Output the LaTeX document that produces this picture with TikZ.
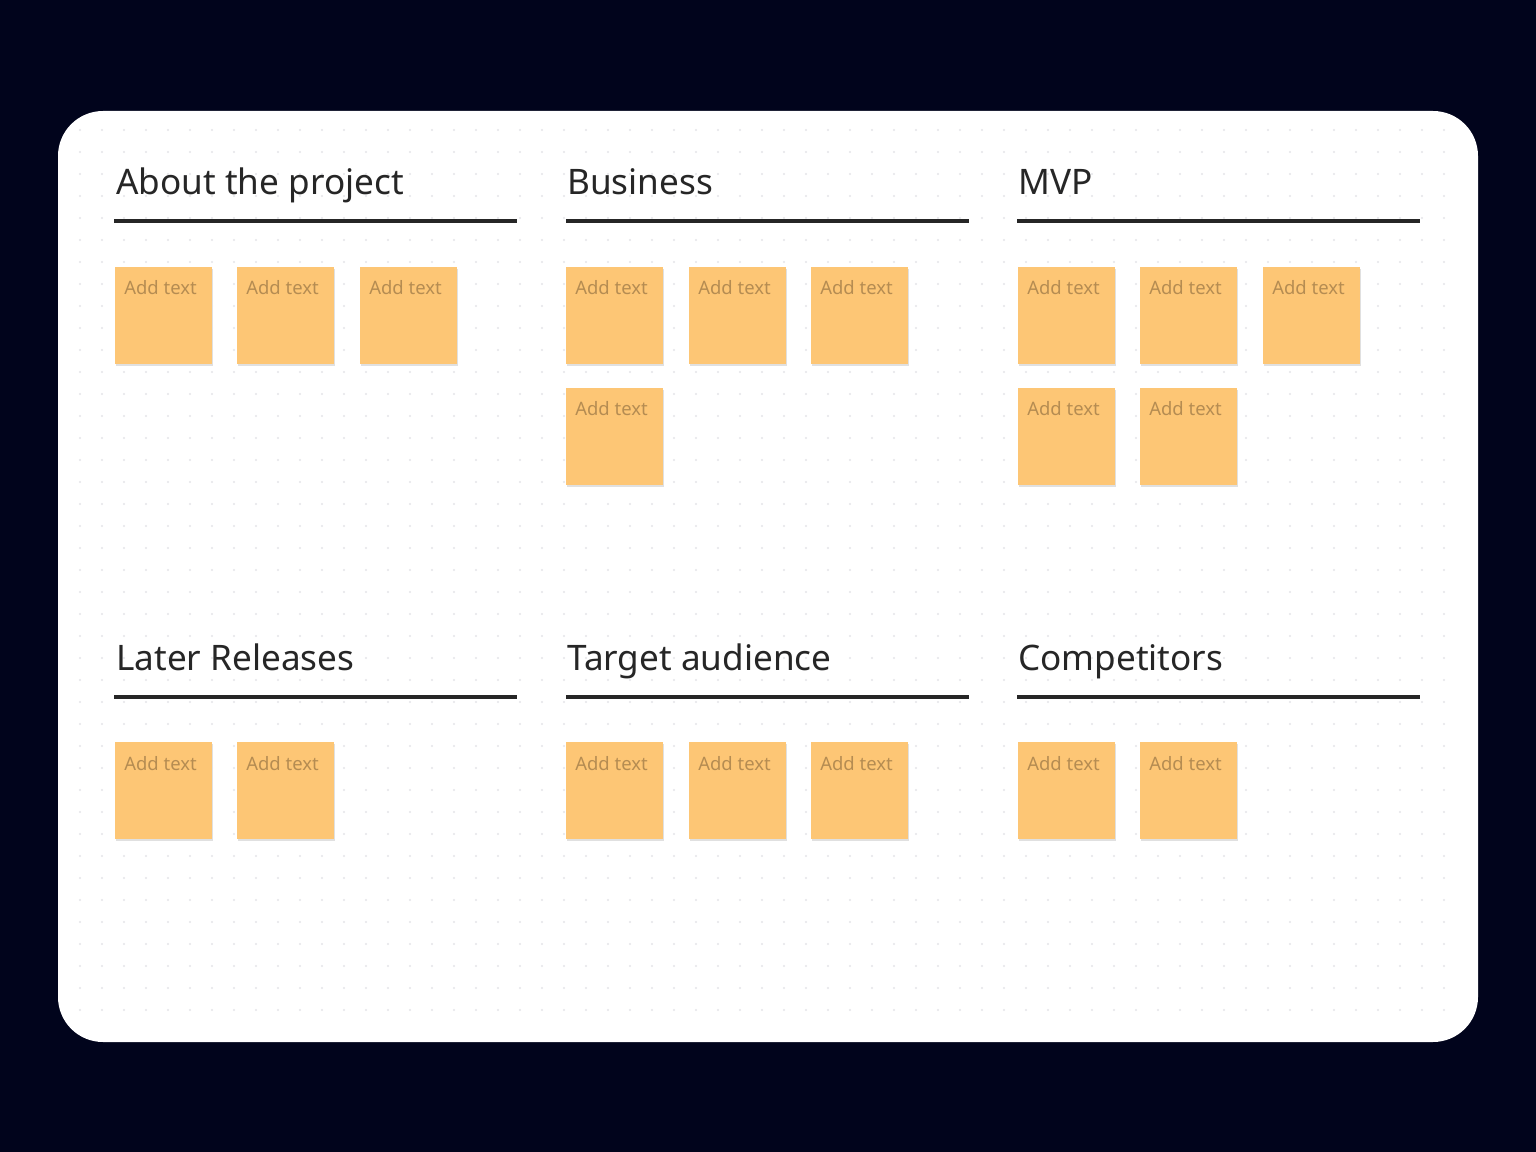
\documentclass[tikz,border=0pt]{standalone}
\usepackage{fontspec}
\setmainfont{Noto Sans}
\begin{document}
\begin{tikzpicture}[x=0.02cm,y=-0.02cm,
  title/.style={anchor=base west,inner sep=0pt,font=\fontsize{20}{24}\selectfont\bfseries,text=black!85},
  rule/.style={line width=2.3pt,draw=black!85},
  sticky/.style={anchor=north west,minimum width=97*0.02cm,minimum height=97*0.02cm,fill=sticky,draw=none,inner sep=0pt},
  lbl/.style={anchor=base west,inner sep=0pt,font=\fontsize{10.5}{12}\selectfont\bfseries,text=stickytext}]
\definecolor{bg}{HTML}{01041C}
\definecolor{sticky}{HTML}{FDC675}
\definecolor{stickytext}{HTML}{B58C52}
\definecolor{dotc}{HTML}{E4E4E8}
\fill[bg] (0,0) rectangle (1536,1152);
\useasboundingbox (0,0) rectangle (1536,1152);
\fill[white,rounded corners=0.9cm] (58,111) rectangle (1478,1042);
\foreach \i in {0,...,62}{\foreach \j in {0,...,40}{
  \fill[dotc] (80+\i*22,130+\j*22) circle (0.6pt);}}
\newcommand{\mysticky}[3]{%
  \fill[black!12] (#2+1,#3+2) rectangle (#2+98,#3+99);
  \node[sticky] (#1) at (#2,#3) {};
  \node[lbl] (#1t) at (#2+9,#3+28) {Add text};}
% headers
\foreach \n/\x/\y/\t in {a/116/195/About the project,b/567/195/Business/monetization,c/1018/195/MVP,d/116/670/Later Releases,e/567/670/Target audience,f/1018/670/Competitors}{
  \node[title] (\n) at (\x,\y) {\t};}
\foreach \x/\y in {114/221,566/221,1017/221,114/697,566/697,1017/697}{
  \draw[rule] (\x,\y) -- (\x+403,\y);}
\mysticky{a1}{115}{267}\mysticky{a2}{237}{267}\mysticky{a3}{360}{267}
\mysticky{b1}{566}{267}\mysticky{b2}{689}{267}\mysticky{b3}{811}{267}
\mysticky{b4}{566}{388}
\mysticky{c1}{1018}{267}\mysticky{c2}{1140}{267}\mysticky{c3}{1263}{267}
\mysticky{c4}{1018}{388}\mysticky{c5}{1140}{388}
\mysticky{d1}{115}{742}\mysticky{d2}{237}{742}
\mysticky{e1}{566}{742}\mysticky{e2}{689}{742}\mysticky{e3}{811}{742}
\mysticky{f1}{1018}{742}\mysticky{f2}{1140}{742}
\end{tikzpicture}
\end{document}
